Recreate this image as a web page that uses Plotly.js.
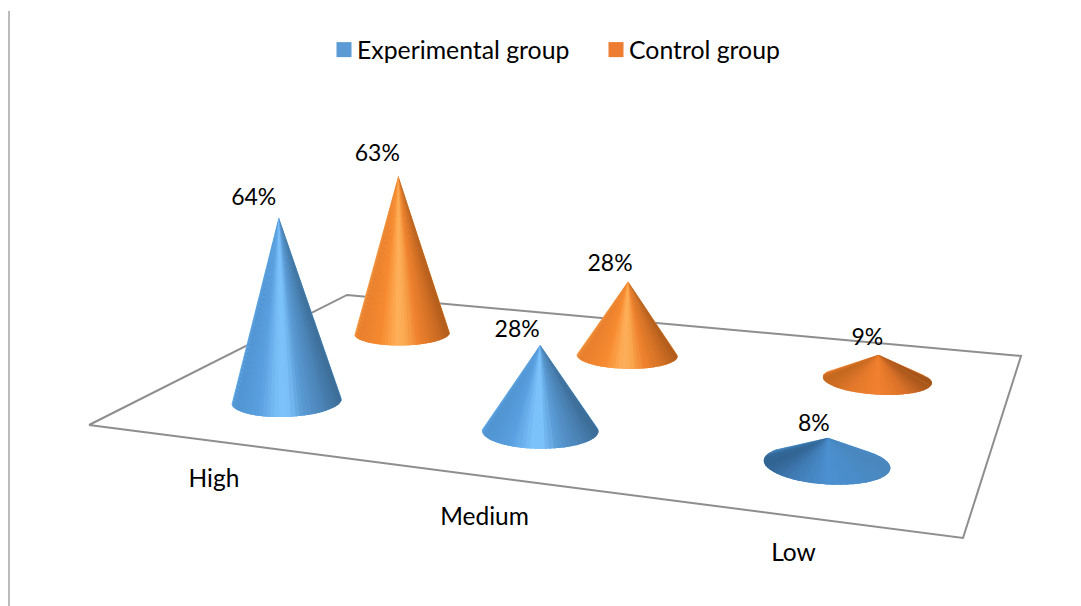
<!DOCTYPE html>
<html>
<head>
<meta charset="utf-8">
<script src="https://cdn.plot.ly/plotly-3.0.1.min.js"></script>
<style>html,body{margin:0;padding:0;background:#fff}#chart{width:1081px;height:606px}</style>
</head>
<body>
<div id="chart"></div>
<script>
// ---- data ----
const categories = ['High', 'Medium', 'Low'];
const experimental = [64, 28, 8];
const control = [63, 28, 9];
const seriesNames = ['Experimental group', 'Control group'];

// ---- 3D scene (floor projection) ----
const W = 1081, H = 606, FONT = 'Lato, Carlito, Calibri, sans-serif';
const A = 699.7, B = 366.4, C = 89, D = 15.6, E = -37.9, F = 425, G = -0.181, I = 0.3123;
const project = (u, v) => {
  const w = G * u + I * v + 1;
  return {x: (A * u + B * v + C) / w, y: (D * u + E * v + F) / w, w};
};
const RU = 0.068, RV = 0.097, HEIGHT_K = 3.0, LEAN = 1.7e-4, SLICES = 44;
const DEPTH = [0.25, 0.75];
const OFFSET = {x: 3, y: 1.5};
const labelNudge = [[[-25, -18], [-23, -14], [-14, -13]], [[-21, -21], [-18, -16], [-11, -15]]];
const catNudge = [-1, 2, -2];

const blueTall = [[0, '#4f92d0'], [0.25, '#5a9fdf'], [0.44, '#7cc2fa'], [0.52, '#7cc2fa'], [0.66, '#5a9ad4'], [0.85, '#4a82b4'], [1, '#3c6c96']];
const orangeTall = [[0, '#e67d2d'], [0.28, '#f78a30'], [0.46, '#feb05a'], [0.54, '#fbaa52'], [0.68, '#ef822e'], [0.87, '#cf6e24'], [1, '#b05b1b']];
const blueFlat = [[0, '#30628f'], [0.2, '#3f79b2'], [0.5, '#4b90d0'], [0.78, '#4a8cc9'], [1, '#4a87bd']];
const orangeFlat = [[0, '#c2681f'], [0.25, '#e3782b'], [0.5, '#f28130'], [0.75, '#dd7329'], [1, '#a1531a']];

const hex2 = s => [1, 3, 5].map(i => parseInt(s.substr(i, 2), 16));
function colorAt(scale, f) {
  f = Math.max(0, Math.min(1, f));
  for (let i = 1; i < scale.length; i++) {
    if (f <= scale[i][0]) {
      const t = (f - scale[i - 1][0]) / (scale[i][0] - scale[i - 1][0]);
      const a = hex2(scale[i - 1][1]), b = hex2(scale[i][1]);
      return 'rgb(' + a.map((c, k) => Math.round(c + (b[k] - c) * t)).join(',') + ')';
    }
  }
  return scale[scale.length - 1][1];
}

function hull(pts) {
  const p = pts.slice().sort((a, b) => a[0] - b[0] || a[1] - b[1]);
  const cross = (o, a, b) => (a[0] - o[0]) * (b[1] - o[1]) - (a[1] - o[1]) * (b[0] - o[0]);
  const lo = [], up = [];
  for (const q of p) { while (lo.length > 1 && cross(lo[lo.length - 2], lo[lo.length - 1], q) <= 0) lo.pop(); lo.push(q); }
  for (const q of p.slice().reverse()) { while (up.length > 1 && cross(up[up.length - 2], up[up.length - 1], q) <= 0) up.pop(); up.push(q); }
  return lo.slice(0, -1).concat(up.slice(0, -1));
}

const polyTrace = (poly, color) => ({
  type: 'scatter', mode: 'lines', x: poly.map(q => q[0]), y: poly.map(q => q[1]),
  line: {width: 0}, fill: 'toself', fillcolor: color, hoverinfo: 'skip', showlegend: false
});

function coneTraces(catIdx, serIdx, value) {
  const u = (catIdx + 0.5) / categories.length, v = DEPTH[serIdx];
  const c = project(u, v);
  const cx = c.x + OFFSET.x, cy = c.y + OFFSET.y;
  const h = HEIGHT_K * value / c.w;
  const apex = [cx + (cx - W / 2) * h * LEAN, cy - h];
  const base = [];
  for (let k = 0; k < 360; k++) {
    const t = 2 * Math.PI * k / 360;
    const p = project(u + RU * Math.cos(t), v + RV * Math.sin(t));
    base.push([p.x + OFFSET.x, p.y + OFFSET.y]);
  }
  // visible silhouette, starting at the apex
  let poly = hull([apex].concat(base));
  const ai = poly.findIndex(q => q === apex);
  poly = poly.slice(ai).concat(poly.slice(0, ai));
  let arc = poly.slice(1);
  if (arc[0][0] > arc[arc.length - 1][0]) arc.reverse();
  const xs = arc.map(q => q[0]);
  const xMin = Math.min.apply(null, xs), xMax = Math.max.apply(null, xs);
  const flat = value < 15;
  const scale = serIdx === 0 ? (flat ? blueFlat : blueTall) : (flat ? orangeFlat : orangeTall);
  const out = [polyTrace([apex].concat(arc, [apex]), colorAt(scale, 0.5))];
  for (let s = 0; s < SLICES; s++) {
    const i0 = Math.floor(s * (arc.length - 1) / SLICES);
    const i1 = Math.min(arc.length - 1, Math.floor((s + 1) * (arc.length - 1) / SLICES) + 2);
    const seg = arc.slice(i0, i1 + 1);
    const midX = arc[Math.floor((i0 + i1) / 2)][0];
    out.push(polyTrace([apex].concat(seg, [apex]), colorAt(scale, (midX - xMin) / (xMax - xMin))));
  }
  return {traces: out, apex};
}

const traces = [];
// floor outline
const floorCorners = [[0, 0], [1, 0], [1, 1], [0, 1], [0, 0]].map(q => project(q[0], q[1]));
traces.push({type: 'scatter', mode: 'lines', x: floorCorners.map(p => p.x), y: floorCorners.map(p => p.y),
  line: {color: '#8e8e8e', width: 2}, hoverinfo: 'skip', showlegend: false});

const labelX = [], labelY = [], labelT = [];
[control, experimental].forEach((vals, idx) => {
  const serIdx = idx === 0 ? 1 : 0;
  vals.forEach((val, i) => {
    const r = coneTraces(i, serIdx, val);
    r.traces.forEach(t => traces.push(t));
    labelX.push(r.apex[0] + labelNudge[serIdx][i][0]);
    labelY.push(r.apex[1] + labelNudge[serIdx][i][1]);
    labelT.push(val + '%');
  });
});
traces.push({type: 'scatter', mode: 'text', x: labelX, y: labelY, text: labelT, textposition: 'middle center',
  textfont: {family: FONT, size: 23, color: '#000'}, hoverinfo: 'skip', showlegend: false});

// category labels along the floor's front edge
const catPts = categories.map((c, i) => project((i + 0.5) / categories.length, 0));
traces.push({type: 'scatter', mode: 'text', x: catPts.map(p => p.x + 2), y: catPts.map((p, i) => p.y + 41 + catNudge[i]), text: categories,
  textposition: 'middle center', textfont: {family: FONT, size: 24.5, color: '#000'}, hoverinfo: 'skip', showlegend: false});

// legend entries
['#5b9bd5', '#ed7d31'].forEach((col, i) => traces.push({
  type: 'scatter', mode: 'markers', x: [null], y: [null], name: seriesNames[i],
  marker: {symbol: 'square', size: 15, color: col, line: {width: 0}}
}));

Plotly.newPlot('chart', traces, {
  width: W, height: H, margin: {l: 0, r: 0, t: 0, b: 0},
  paper_bgcolor: '#fff', plot_bgcolor: '#fff',
  xaxis: {range: [0, W], visible: false, fixedrange: true},
  yaxis: {range: [H, 0], visible: false, fixedrange: true},
  showlegend: true,
  legend: {orientation: 'h', x: 317 / W, xanchor: 'left', y: 1 - 50 / H, yanchor: 'middle',
    font: {family: FONT, size: 24.8, color: '#000'}, entrywidth: 227, entrywidthmode: 'pixels', bgcolor: 'rgba(0,0,0,0)'},
  shapes: [{type: 'line', xref: 'paper', yref: 'paper', x0: 9 / W, x1: 9 / W, y0: 0, y1: 1 - 11 / H,
    line: {color: '#a6a6a6', width: 1.5}}]
}, {displayModeBar: false, staticPlot: true}).then(gd => {
  // the reference keeps its swatches closer to the legend text
  gd.querySelectorAll('.legend .legendpoints').forEach(g => g.setAttribute('transform', 'translate(7,0)'));
});
</script>
</body>
</html>
